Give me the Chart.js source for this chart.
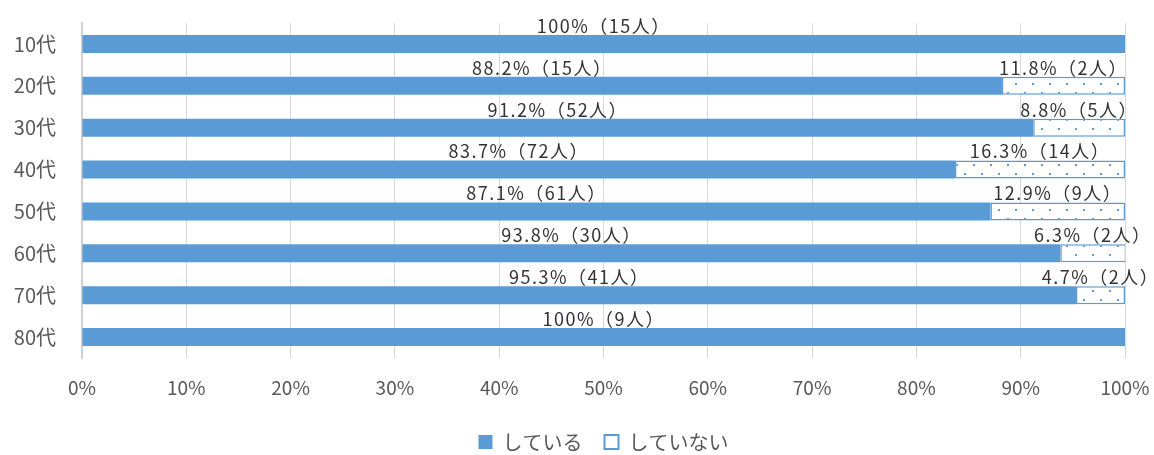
<!DOCTYPE html>
<html lang="ja">
<head>
    <meta charset="UTF-8">
    <title>年代別の割合</title>
    <script src="https://cdn.jsdelivr.net/npm/chart.js"></script>
    <style>
        body { margin: 0; background: #fff; }
        canvas { display: block; }
    </style>
</head>
<body>
<canvas id="ageChart" width="1154" height="455"></canvas>
<script>
    const ageGroups = ['10代', '20代', '30代', '40代', '50代', '60代', '70代', '80代'];
    const doingPct = [100, 88.2, 91.2, 83.7, 87.1, 93.8, 95.3, 100];
    const doingCount = [15, 15, 52, 72, 61, 30, 41, 9];
    const notDoingPct = [0, 11.8, 8.8, 16.3, 12.9, 6.3, 4.7, 0];
    const notDoingCount = [0, 2, 5, 14, 9, 2, 2, 0];
    const xTicks = [0, 10, 20, 30, 40, 50, 60, 70, 80, 90, 100];

    const blue = '#5B9BD5';
    const fontFamily = '"Noto Sans CJK JP", "Noto Sans", sans-serif';

    // white tile with staggered blue dots
    function dotPattern() {
        const c = document.createElement('canvas');
        c.width = 17; c.height = 18;
        const g = c.getContext('2d');
        g.fillStyle = '#fff';
        g.fillRect(0, 0, 17, 18);
        g.fillStyle = blue;
        g.fillRect(4, 2, 2, 2);
        g.fillRect(12, 11, 2, 2);
        return g.createPattern(c, 'repeat');
    }

    // percent (count) text above each segment
    const segmentLabels = {
        id: 'segmentLabels',
        afterDatasetsDraw(chart) {
            const ctx = chart.ctx;
            ctx.save();
            ctx.font = '18px ' + fontFamily;
            ctx.letterSpacing = '1.5px';
            ctx.fillStyle = '#333333';
            ctx.textAlign = 'center';
            ctx.textBaseline = 'middle';
            chart.data.datasets.forEach((ds, di) => {
                const meta = chart.getDatasetMeta(di);
                meta.data.forEach((bar, i) => {
                    const v = ds.data[i];
                    if (!v) return;
                    const left = Math.min(bar.x, bar.base);
                    const right = Math.min(Math.max(bar.x, bar.base), chart.chartArea.right);
                    const cx = (left + right) / 2;
                    const top = bar.y - bar.height / 2;
                    const pct = v === 100 ? '100' : v.toFixed(1);
                    ctx.fillText(pct + '%（' + ds.counts[i] + '人）', cx, top - 9);
                });
            });
            ctx.restore();
        }
    };

    const ctx = document.getElementById('ageChart').getContext('2d');
    new Chart(ctx, {
        type: 'bar',
        data: {
            labels: ageGroups,
            datasets: [
                {
                    label: 'している',
                    data: doingPct,
                    counts: doingCount,
                    backgroundColor: blue,
                    borderWidth: 0,
                    barPercentage: 0.43,
                    categoryPercentage: 1
                },
                {
                    label: 'していない',
                    data: notDoingPct,
                    counts: notDoingCount,
                    backgroundColor: dotPattern(),
                    borderColor: blue,
                    borderWidth: 1.5,
                    borderSkipped: false,
                    barPercentage: 0.43,
                    categoryPercentage: 1
                }
            ]
        },
        options: {
            indexAxis: 'y',
            responsive: false,
            animation: false,
            layout: { padding: { top: 23, right: 29, left: 0, bottom: -7 } },
            plugins: {
                tooltip: { enabled: false },
                legend: {
                    position: 'bottom',
                    fullSize: false,
                    labels: {
                        font: { family: fontFamily, size: 20 },
                        color: '#595959',
                        boxWidth: 14,
                        boxHeight: 14,
                        padding: 22,
                        generateLabels(chart) {
                            return chart.data.datasets.map((ds, i) => ({
                                text: ds.label,
                                fillStyle: i === 0 ? blue : '#fff',
                                strokeStyle: blue,
                                lineWidth: i === 0 ? 0 : 2,
                                fontColor: '#595959',
                                datasetIndex: i
                            }));
                        }
                    }
                }
            },
            scales: {
                x: {
                    stacked: true,
                    min: 0,
                    max: 100,
                    afterBuildTicks(axis) {
                        axis.ticks = xTicks.map(v => ({ value: v }));
                    },
                    ticks: {
                        callback: v => v + '%',
                        font: { family: fontFamily, size: 19 },
                        color: '#595959',
                        padding: 18
                    },
                    grid: { color: '#d9d9d9', drawTicks: false },
                    border: { display: false },
                    afterFit(axis) {
                        axis.height = 52;
                        axis.paddingLeft = 0;
                        axis.paddingRight = 0;
                    }
                },
                y: {
                    stacked: true,
                    ticks: {
                        font: { family: fontFamily, size: 20 },
                        color: '#595959',
                        padding: 18
                    },
                    grid: { display: false },
                    border: { color: '#d0d0d0', width: 2 },
                    afterFit(axis) {
                        axis.width = 82;
                        axis.paddingTop = 0;
                        axis.paddingBottom = 0;
                    }
                }
            }
        },
        plugins: [segmentLabels]
    });
</script>
</body>
</html>
